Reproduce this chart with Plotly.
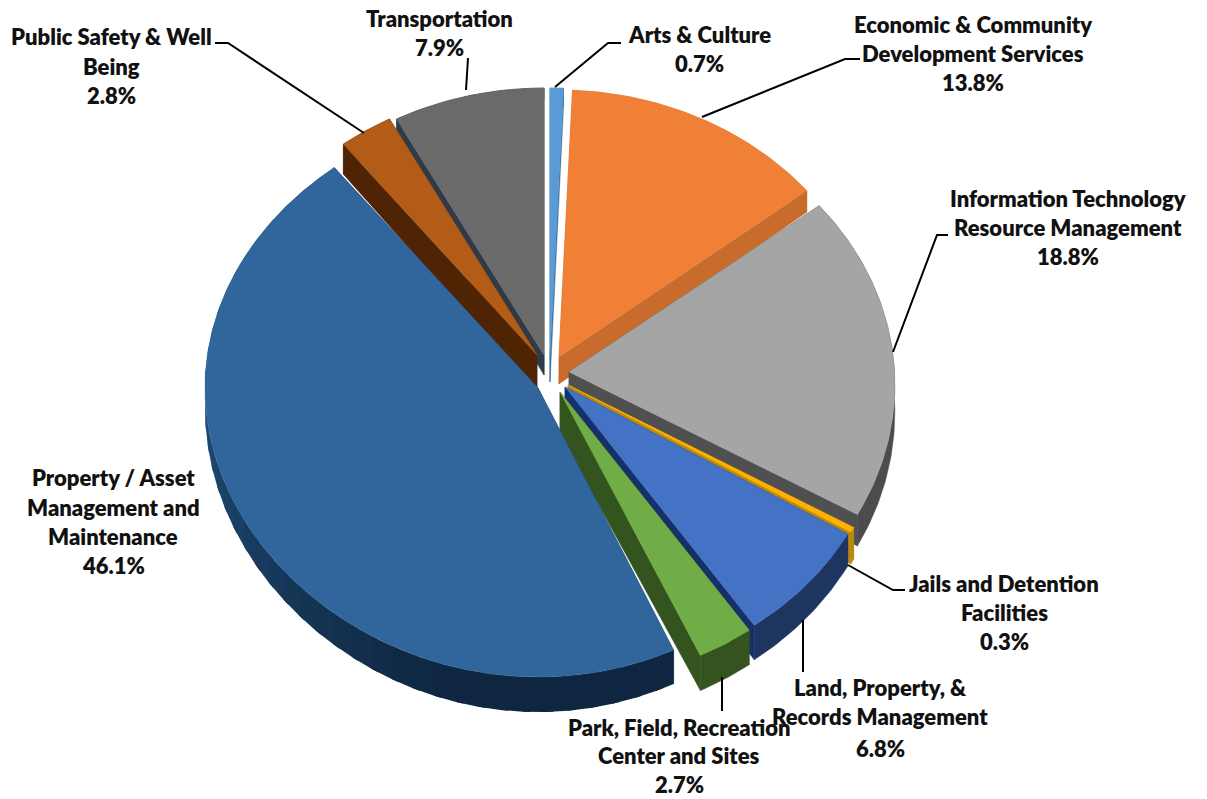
import math
import plotly.graph_objects as go

categories = ["Arts & Culture", "Economic & Community Development Services",
              "Information Technology Resource Management", "Jails and Detention Facilities",
              "Land, Property, & Records Management", "Park, Field, Recreation Center and Sites",
              "Property / Asset Management and Maintenance", "Public Safety & Well Being", "Transportation"]
shares = [0.7, 13.8, 18.8, 0.3, 6.8, 2.7, 46.1, 2.8, 7.9]

# drawing style: exploded apex of each slice, colours (top, cut face, outer wall), perspective radii
apex_x = [550, 559, 569, 568, 565, 560, 538, 537, 544]
apex_y = [355, 357, 372, 385, 387, 392, 388, 355, 355]
top_col = ["#5B9BD5", "#F08036", "#A5A5A5", "#FFB000", "#4472C4", "#70AD47", "#30669C", "#B25C18", "#6A6A6A"]
cut_col = ["#3F6F9C", "#C76C2C", "#505050", "#B98A12", "#16306A", "#33531F", "#1B3D5E", "#4F2404", "#2F3B48"]
wall_col = ["#3F6F9C", "#C76C2C", "#4C4C4C", "#B98A12", "#1E3560", "#35531F", "#0E2640", "#4F2404", "#2F3B48"]
rx_mid = [322.5, 322.5, 325.5, 322.5, 322.5, 322.5, 333, 322.5, 322.5]
rx_slope = [-15, -15, -15, -15, -15, -15, 0, -15, -15]
rx_curve = [0, 0, 0, 0, 0, 0, -10, 0, 0]
ry_mid = [279, 279, 279, 279, 279, 279, 285, 279, 279]
ry_slope = [-12, -12, -12, -12, -12, -12, -4, -12, -12]
depth_mid = [27, 27, 27, 27, 27, 27, 20, 37, 20]
depth_slope = [-9, -9, -9, -9, -9, -9, -15, -9, -9]
apex_depth = [27, 27, 27, 27, 27, 42, 20, 37, 20]
draw_order = [0, 8, 7, 1, 2, 3, 4, 5, 6]
PROPERTY = 6
PROPERTY_WALL_LIGHT = (0x1F, 0x4C, 0x75)
PROPERTY_WALL_DARK = (0x0E, 0x26, 0x40)

label_lines = [
    ["Arts & Culture", "0.7%"],
    ["Economic & Community", "Development Services", "13.8%"],
    ["Information Technology", "Resource Management", "18.8%"],
    ["Jails and Detention", "Facilities", "0.3%"],
    ["Land, Property, &", "Records Management", "6.8%"],
    ["Park, Field, Recreation", "Center and Sites", "2.7%"],
    ["Property / Asset", "Management and", "Maintenance", "46.1%"],
    ["Public Safety & Well", "Being", "2.8%"],
    ["Transportation", "7.9%"],
]
label_x = [699, 973, 1068, 1004, 880, 679, 113, 111, 439]
label_y = [[34, 63], [24, 53, 82], [198, 227, 256], [583, 612, 641], [687, 716, 748],
           [727, 755.5, 784], [477, 507, 536, 565], [36, 66, 95], [18, 47]]

leaders = [
    [(621, 43), (608, 43), (555, 87)],
    [(860, 59), (845, 59), (702, 117)],
    [(948, 235), (937, 235), (893, 352)],
    [(905, 590), (893, 590), (848, 565)],
    [(803, 620), (803, 672)],
    [(722, 677), (722, 711)],
    [(215, 43), (228, 43), (364, 133)],
    [(468, 58), (466, 90)],
]


def rim(i, deg):
    t = math.radians(deg)
    c, s = math.cos(t), math.sin(t)
    rx = rx_mid[i] + rx_slope[i] * c + rx_curve[i] * c * c
    ry = ry_mid[i] + ry_slope[i] * c
    return apex_x[i] + rx * s, apex_y[i] - ry * c, depth_mid[i] + depth_slope[i] * c


total = sum(shares)
starts, acc = [], 0.0
for v in shares:
    starts.append(acc / total * 360)
    acc += v

fig = go.Figure()


def poly(xs, ys, colour, name, width=0.5):
    fig.add_trace(go.Scatter(x=xs, y=ys, mode="lines", fill="toself", fillcolor=colour,
                             line=dict(color=colour, width=width), hoverinfo="skip",
                             showlegend=False, name=name))


for i in draw_order:
    a0 = starts[i]
    a1 = a0 + shares[i] / total * 360
    n = max(3, int((a1 - a0) * 1.5))
    angles = [a0 + (a1 - a0) * k / n for k in range(n + 1)]
    pts = [rim(i, a) for a in angles]
    ax, ay = apex_x[i], apex_y[i]
    depth = apex_depth[i]
    # cut faces
    cx, cy = [], []
    for p in (pts[0], pts[-1]):
        cx += [ax, p[0], p[0], ax, ax, None]
        cy += [ay, p[1], p[1] + p[2], ay + depth, ay, None]
    poly(cx, cy, cut_col[i], categories[i] + " cut")
    # outer wall
    if i == PROPERTY:
        # the wall of the big slice fades from dark at the front to lighter on the left;
        # drawn from the light end so each band overlaps the seam of the one before
        step = 6
        for k in range(n - step, -step, -step):
            k0 = max(k, 0)
            seg = pts[k0:k + step + 3]
            mid_angle = angles[min(k0 + step // 2, n)]
            f = max(0.0, min(1.0, (mid_angle - 195) / 75))
            rgb = [round(d + (l - d) * f) for d, l in zip(PROPERTY_WALL_DARK, PROPERTY_WALL_LIGHT)]
            poly([p[0] for p in seg] + [p[0] for p in reversed(seg)],
                 [p[1] for p in seg] + [p[1] + p[2] for p in reversed(seg)],
                 "rgb(%d,%d,%d)" % tuple(rgb), categories[i] + " wall", width=0)
    else:
        wx = [p[0] for p in pts] + [p[0] for p in reversed(pts)]
        wy = [p[1] for p in pts] + [p[1] + p[2] for p in reversed(pts)]
        poly(wx, wy, wall_col[i], categories[i] + " wall")
    # top face
    poly([ax] + [p[0] for p in pts] + [ax], [ay] + [p[1] for p in pts] + [ay], top_col[i], categories[i])

lx, ly = [], []
for seg in leaders:
    lx += [p[0] for p in seg] + [None]
    ly += [p[1] for p in seg] + [None]
fig.add_trace(go.Scatter(x=lx, y=ly, mode="lines", line=dict(color="black", width=2),
                         hoverinfo="skip", showlegend=False, name="leaders"))

for lines, x, ys in zip(label_lines, label_x, label_y):
    for text, y in zip(lines, ys):
        fig.add_annotation(x=x, y=y, text=text, showarrow=False, xanchor="center",
                           yanchor="middle", font=dict(family="Lato", size=22, weight=800, color="#111111"))

fig.update_layout(width=1207, height=799, margin=dict(l=0, r=0, t=0, b=0), autosize=False,
                  paper_bgcolor="white", plot_bgcolor="white", showlegend=False,
                  xaxis=dict(range=[0, 1207], visible=False, fixedrange=True),
                  yaxis=dict(range=[799, 0], visible=False, fixedrange=True))
fig.write_html("out.html", config=dict(displayModeBar=False),
               post_script="document.body.style.margin='0';")
